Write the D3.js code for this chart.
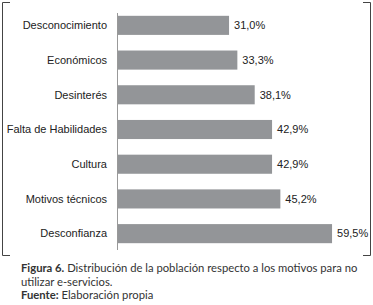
<!DOCTYPE html>
<html>
<head>
<meta charset="utf-8">
<style>
  body { margin: 0; background: #fff; }
  .cat { font-family: 'Liberation Sans', Arial, sans-serif; font-size: 11px; fill: #222; }
  .val { font-family: 'Liberation Sans', Arial, sans-serif; font-size: 11px; fill: #222; }
  .cap { font-family: Lato, 'Open Sans', sans-serif; font-size: 11.25px; fill: #333; }
</style>
<script src="https://d3js.org/d3.v7.min.js"></script>
</head>
<body>
<script>
const categories = ['Desconocimiento', 'Económicos', 'Desinterés', 'Falta de Habilidades', 'Cultura', 'Motivos técnicos', 'Desconfianza'];
const values = [31.0, 33.3, 38.1, 42.9, 42.9, 45.2, 59.5];
const valueLabels = ['31,0%', '33,3%', '38,1%', '42,9%', '42,9%', '45,2%', '59,5%'];

const width = 373, height = 305;

const svg = d3.select('body').append('svg')
  .attr('width', width)
  .attr('height', height);

const x = d3.scaleLinear().domain([0, 70]).range([117, 370]);
const y = d3.scaleBand().domain(categories).range([8, 251]).paddingInner(0.45).paddingOuter(0.225);

// frame brackets
const frame = svg.append('g').attr('fill', 'none').attr('stroke', '#444').attr('stroke-width', 1);
frame.append('path').attr('d', 'M10,2.5H2.5V255.5H10');
frame.append('path').attr('d', 'M363,2.5H370.5V255.5H363');

// bars
svg.selectAll('rect.bar')
  .data(values)
  .enter().append('rect')
  .attr('class', 'bar')
  .attr('x', x(0))
  .attr('y', (d, i) => y(categories[i]))
  .attr('width', d => x(d) - x(0))
  .attr('height', y.bandwidth())
  .attr('fill', '#939598');

// axis line
svg.append('line')
  .attr('x1', x(0) + 0.5).attr('x2', x(0) + 0.5)
  .attr('y1', 13).attr('y2', 250)
  .attr('stroke', '#999');

// category labels
svg.selectAll('text.cat')
  .data(categories)
  .enter().append('text')
  .attr('class', 'cat')
  .attr('x', 107)
  .attr('y', d => y(d) + y.bandwidth() / 2)
  .attr('dy', '0.35em')
  .attr('text-anchor', 'end')
  .text(d => d);

// value labels
svg.selectAll('text.val')
  .data(values)
  .enter().append('text')
  .attr('class', 'val')
  .attr('x', d => x(d) + 5)
  .attr('y', (d, i) => y(categories[i]) + y.bandwidth() / 2)
  .attr('dy', '0.35em')
  .text((d, i) => valueLabels[i]);

// caption
const cap = svg.append('g').attr('class', 'cap');
const l1 = cap.append('text').attr('x', 21).attr('y', 272);
l1.append('tspan').attr('font-weight', 'bold').text('Figura 6.');
l1.append('tspan').text(' Distribución de la población respecto a los motivos para no');
cap.append('text').attr('x', 21).attr('y', 285.5).text('utilizar e-servicios.');
const l3 = cap.append('text').attr('x', 21).attr('y', 299);
l3.append('tspan').attr('font-weight', 'bold').text('Fuente:');
l3.append('tspan').text(' Elaboración propia');
</script>
</body>
</html>
